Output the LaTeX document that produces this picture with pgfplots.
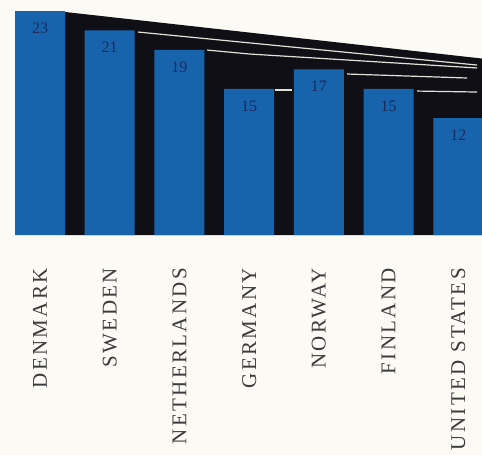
\documentclass[border=0pt]{standalone}
\usepackage{fontspec}
\setmainfont{Liberation Serif}
\newfontfamily\spacedserif[LetterSpace=11]{Liberation Serif}
\usepackage{pgfplots}
\pgfplotsset{compat=1.18}
\definecolor{barblue}{RGB}{24,100,172}
\definecolor{shadow}{RGB}{16,15,22}
\definecolor{numnavy}{RGB}{28,42,92}
\definecolor{labelgray}{RGB}{60,60,60}
\definecolor{paper}{RGB}{252,250,244}
\definecolor{edgeline}{RGB}{225,225,215}
\begin{document}
\begin{tikzpicture}
\path[use as bounding box, fill=paper] (0,-220pt) rectangle (482pt,235pt);
\clip (0,-220pt) rectangle (482pt,235pt);
\begin{axis}[at={(0,0)}, anchor=south west, scale only axis,
  width=482pt, height=235pt,
  xmin=-0.574, xmax=6.34, ymin=0, ymax=24.13,
  axis line style={draw=none}, major tick length=0pt, ytick=\empty,
  xtick={0,...,6},
  xticklabels={DENMARK,SWEDEN,NETHERLANDS,GERMANY,NORWAY,FINLAND,UNITED STATES},
  xticklabel style={rotate=90, anchor=east, font=\spacedserif\fontsize{21}{24}\selectfont, text=labelgray, inner sep=0pt},
  xticklabel shift=33pt,
  /pgf/number format/assume math mode=true,
]
% dark back wall / shadow band
\addplot[fill=shadow, draw=none] coordinates {(0.359,22.9) (6.4,18.07) (6.4,0) (0.359,0) (0.359,22.9)};
% light edge lines on the back wall
\addplot[edgeline, line width=1.2pt] coordinates {(1.406,20.84) (6.27,17.45)};
\addplot[edgeline, line width=1.2pt] coordinates {(2.396,18.99) (3.013,18.58) (6.27,17.15)};
\addplot[edgeline, line width=1.2pt] coordinates {(4.405,16.53) (6.126,16.12)};
\addplot[edgeline, line width=1.2pt] coordinates {(3.372,14.89) (3.615,14.89)};
\addplot[edgeline, line width=1.2pt] coordinates {(5.409,14.78) (6.27,14.68)};
% bars
\addplot[ybar, bar width=50pt, fill=barblue, draw=none,
  nodes near coords,
  every node near coord/.append style={anchor=center, yshift=-17pt, font=\fontsize{16}{16}\selectfont, text=numnavy}]
  coordinates {(0,23) (1,21) (2,19) (3,15) (4,17) (5,15) (6,12)};
\end{axis}
\end{tikzpicture}
\end{document}
